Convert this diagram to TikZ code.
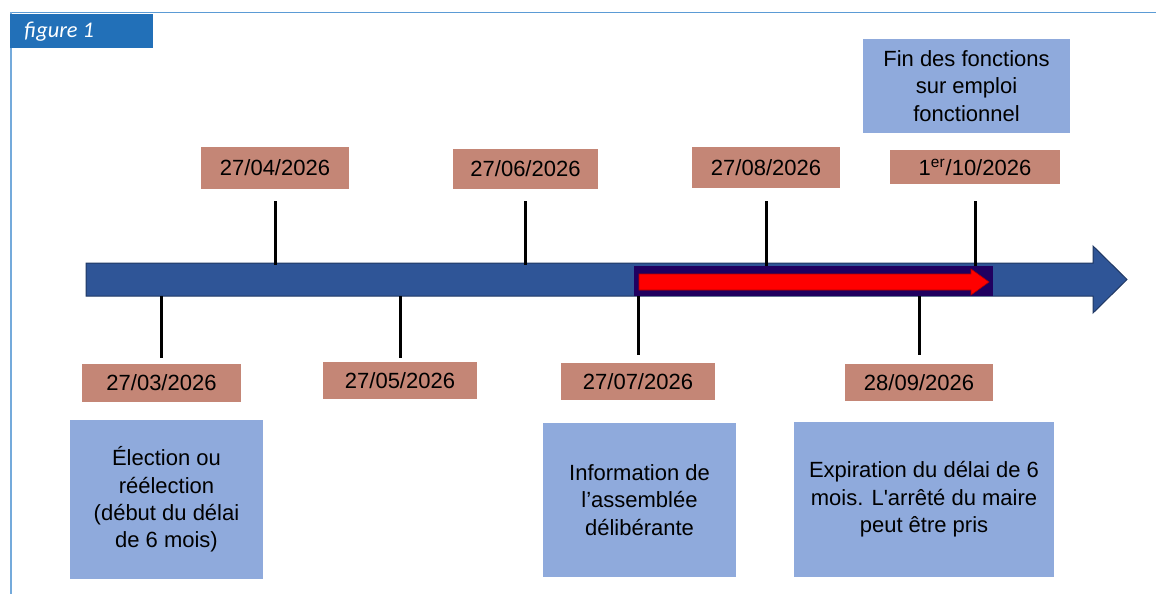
\documentclass[tikz,border=0pt]{standalone}
\usepackage{fontspec}
\setmainfont{Liberation Sans}
\newfontfamily\tagfont{Carlito}
\definecolor{frameblue}{RGB}{91, 155, 213}
\definecolor{tagblue}{RGB}{34, 112, 184}
\definecolor{datebrown}{RGB}{196, 134, 118}
\definecolor{notelilac}{RGB}{143, 170, 220}
\definecolor{axisblue}{RGB}{47, 85, 151}
\definecolor{axisedge}{RGB}{32, 56, 100}
\definecolor{spannavy}{RGB}{32, 0, 96}
\usetikzlibrary{calc}
\tikzset{
  datebox/.style={fill=datebrown, minimum width=#1, minimum height=19pt, inner sep=0pt, font=\fontsize{11}{13.7}\selectfont},
  datebox/.default=74pt,
  notebox/.style={fill=notelilac, align=center, inner sep=0pt, font=\fontsize{11}{13.7}\selectfont},
  datetick/.style={line width=1.5pt, black},
}
\begin{document}
\begin{tikzpicture}[x=0.5pt, y=-0.5pt]
\useasboundingbox (0,0) rectangle (1156,594);
\draw[frameblue, line width=0.8pt] (10,12.5) -- (1156,12.5);
\draw[frameblue!85, line width=1pt] (11,12) -- (11,594);
\node[fill=tagblue, minimum width=71.5pt, minimum height=17pt, inner sep=0pt, anchor=north west] (tag) at (10,14) {};
\node[anchor=base west, text=white, inner sep=0pt, font=\tagfont\itshape\fontsize{11.2}{13}\selectfont] (tagtext) at (24,37.5) {figure 1};

\filldraw[fill=axisblue, draw=axisedge, line width=0.5pt]
  (86,263) -- (1093,263) -- (1093,246) -- (1127,279.5) -- (1093,313) -- (1093,296) -- (86,296) -- cycle;
\coordinate (axtop) at (0,263);
\coordinate (axbot) at (0,296);
\fill[spannavy] (634,266) rectangle (993,296);
\filldraw[fill=red, draw=red!70!black, line width=0.3pt]
  (639,274) -- (971,274) -- (971,269) -- (989,282) -- (971,295) -- (971,290) -- (639,290) -- cycle;

\node[datebox=79.5pt] (d0327) at (161.5,383) {27/03/2026};
\node[datebox=74pt, minimum height=21pt] (d0427) at (275,168) {27/04/2026};
\node[datebox=77pt, minimum height=18.5pt] (d0527) at (400,380.5) {27/05/2026};
\node[datebox=72.5pt, minimum height=20pt] (d0627) at (525.5,169) {27/06/2026};
\node[datebox=77pt, minimum height=18.5pt] (d0727) at (638,381.5) {27/07/2026};
\node[datebox=74pt, minimum height=20.5pt] (d0827) at (766,167.5) {27/08/2026};
\node[datebox=74pt, minimum height=18.5pt] (d0928) at (919,382.5) {28/09/2026};
\node[datebox=85pt, minimum height=17pt] (d1001) at (975,167) {1\textsuperscript{er}/10/2026};

\draw[datetick, shorten <=6pt, shorten >=-1pt] (d0427.south) -- (d0427.south |- axtop);
\draw[datetick, shorten <=6pt, shorten >=-1pt] (d0627.south) -- (d0627.south |- axtop);
\draw[datetick, shorten <=6.5pt, shorten >=-1.5pt] (d0827.south) -- (d0827.south |- axtop);
\draw[datetick, shorten <=8.5pt, shorten >=-1.5pt] (d1001.south) -- (d1001.south |- axtop);
\draw[datetick, shorten >=3pt] (d0327.north |- axbot) -- (d0327.north);
\draw[datetick, shorten >=2pt] (d0527.north |- axbot) -- (d0527.north);
\draw[datetick, shorten >=4pt] (d0727.north |- axbot) -- (d0727.north);
\draw[datetick, shorten >=4.5pt] (d0928.north |- axbot) -- (d0928.north);

\node[notebox, minimum width=96.5pt, minimum height=79.5pt] (election) at (166.5,499.5) {Élection ou\\réélection\\(début du délai\\de 6 mois)};
\node[notebox, minimum width=96.5pt, minimum height=77pt] (assemblee) at (639.5,500) {Information de\\l’assemblée\\délibérante};
\node[notebox, minimum width=130pt, minimum height=77.5pt] (expiration) at (924,499.5) {Expiration du délai de 6\\mois. L\textquotesingle arrêté du maire\\peut être pris};
\node[notebox, minimum width=103.5pt, minimum height=47pt] (finfonctions) at (966.5,86) {Fin des fonctions\\sur emploi\\fonctionnel};
\end{tikzpicture}
\end{document}
